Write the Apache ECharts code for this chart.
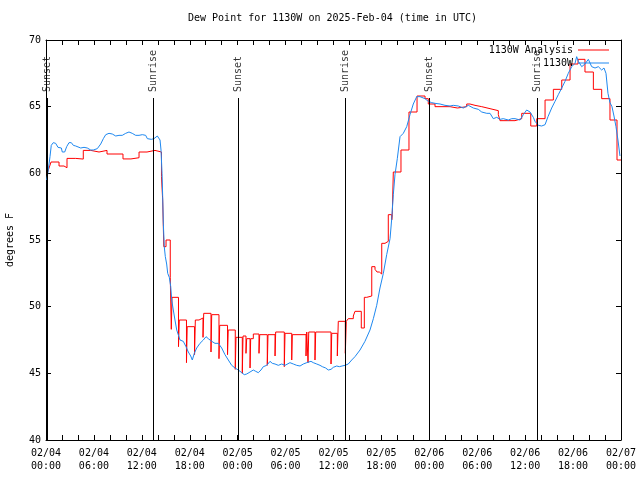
<!DOCTYPE html>
<html>
<head>
<meta charset="utf-8">
<script src="https://cdn.jsdelivr.net/npm/echarts@6/dist/echarts.min.js"></script>
<style>html,body{margin:0;padding:0;background:#fff}#c{width:640px;height:480px}</style>
</head>
<body>
<div id="c"></div>
<script>
// time in hours since 2025-02-04 00:00 UTC
const redTimes = [0.15,0.38,0.63,1.63,2.25,2.63,3.72,4.67,5.60,6.64,7.64,9.64,10.64,11.65,12.65,13.65,
 14.46,14.61,14.69,14.75,15.03,15.56,15.69,15.78,16.59,16.69,17.59,17.68,18.60,18.70,19.16,19.66,19.75,
 20.66,20.75,21.66,21.75,22.73,22.82,23.70,23.79,24.58,24.67,25.04,25.13,25.55,25.63,25.96,26.67,26.76,
 27.71,27.80,28.68,28.76,29.84,29.93,30.77,30.84,32.56,32.65,32.81,32.90,33.68,33.77,35.69,35.78,36.48,
 36.60,37.48,37.60,37.85,38.48,38.69,39.48,39.86,40.16,40.79,41.20,41.45,41.74,42.04,42.45,42.86,43.29,
 43.36,43.49,44.45,45.45,46.46,47.46,47.87,48.71,50.59,51.51,52.68,53.09,53.72,54.56,55.60,56.64,56.85,
 58.73,59.57,60.70,61.45,62.49,63.53,64.58,65.62,66.62,67.49,68.54,69.58,70.62,71.50,72.0];
const redValues = [60.0,60.4,60.85,60.55,60.42,61.12,61.07,61.72,61.6,61.72,61.45,61.08,61.17,61.6,61.72,61.6,
 59.75,58.0,56.0,54.5,55.0,52.2,48.3,50.7,47.0,49.0,45.8,48.5,46.4,49.0,49.15,47.7,49.5,
 46.6,49.4,46.1,48.6,46.4,48.25,45.3,47.7,45.0,47.8,46.5,47.6,45.4,47.6,47.95,46.5,47.9,
 45.6,47.9,46.3,48.1,45.5,48.0,46.0,47.9,46.3,48.1,45.8,48.1,46.0,48.1,45.7,48.0,46.3,
 48.9,46.5,48.9,49.1,49.3,49.65,48.4,50.7,50.8,53.0,52.8,52.6,52.45,54.75,54.9,56.9,56.5,
 56.9,60.1,61.75,64.6,65.8,65.6,65.2,65.0,64.9,65.0,65.2,65.1,65.0,64.85,64.7,64.4,63.95,
 64.1,64.5,63.55,64.1,65.5,66.3,67.0,68.2,68.55,67.6,66.3,65.6,64.0,61.0,61.0];

const blueTimes = [0.09,0.25,0.50,0.66,0.91,1.21,1.50,1.75,1.92,2.04,2.34,2.59,2.88,3.17,3.42,3.72,3.92,4.35,
 4.76,5.17,5.60,5.92,6.14,6.42,6.85,7.18,7.48,7.89,8.30,8.73,9.14,9.55,9.98,10.39,10.61,10.80,11.23,11.65,
 12.06,12.48,12.69,12.90,13.19,13.52,13.94,14.15,14.28,14.40,14.53,14.61,14.69,14.81,14.94,15.11,15.24,
 15.44,15.62,15.74,15.94,16.15,16.37,16.78,17.19,17.53,17.82,18.12,18.32,18.57,18.87,19.28,19.70,20.04,
 20.32,20.75,21.16,21.58,22.00,22.41,22.83,23.25,23.67,24.08,24.51,24.83,25.13,25.55,25.96,26.26,26.58,
 26.92,27.21,27.64,28.05,28.34,28.68,29.09,29.51,29.93,30.55,30.97,31.39,31.81,32.22,32.65,33.18,33.47,
 33.90,34.31,34.60,35.02,35.35,35.69,35.98,36.40,36.73,37.07,37.44,37.85,38.28,38.69,39.32,39.94,40.57,
 40.99,41.41,41.82,42.24,42.66,43.08,43.29,43.49,43.70,43.99,44.33,44.74,45.17,45.58,45.99,46.42,46.83,
 47.46,47.87,48.30,48.71,49.34,49.96,50.59,51.00,51.63,52.25,52.88,53.51,54.13,54.56,55.19,55.60,56.01,
 56.44,56.85,57.26,57.89,58.32,58.73,59.36,59.77,60.19,60.61,61.02,61.23,61.65,62.07,62.49,62.86,63.32,
 63.74,64.15,64.58,64.99,65.40,65.83,66.24,66.45,66.66,67.08,67.49,67.91,68.33,68.75,69.16,69.58,69.87,
 70.12,70.37,70.62,70.87,71.12,71.37,71.62,71.87];
const blueValues = [59.5,60.1,61.25,62.1,62.3,62.25,61.95,61.85,61.9,61.6,61.6,62.0,62.3,62.3,62.1,62.05,61.9,61.9,
 61.95,61.9,61.75,61.75,61.6,61.85,62.2,62.6,62.9,63.0,62.95,62.8,62.85,62.85,63.0,63.1,63.25,63.0,62.85,62.85,
 62.9,62.85,62.6,62.45,62.55,62.6,62.8,62.85,62.5,61.75,60.0,58.25,56.25,54.5,53.75,53.2,52.5,
 52.2,51.5,50.5,49.75,49.0,48.25,47.5,47.4,47.0,46.6,46.3,46.0,46.5,46.9,47.25,47.5,47.75,
 47.6,47.4,47.25,47.25,46.9,46.4,46.0,45.6,45.4,45.25,45.05,44.9,44.95,45.1,45.25,45.15,45.05,
 45.25,45.5,45.6,45.9,45.75,45.7,45.6,45.7,45.6,45.8,45.7,45.6,45.55,45.7,45.8,45.9,45.8,
 45.7,45.6,45.5,45.4,45.25,45.3,45.45,45.55,45.5,45.55,45.6,45.7,46.0,46.25,46.75,47.4,48.25,
 49.1,50.1,51.4,52.5,53.9,55.1,56.6,58.4,59.9,61.1,62.75,63.0,63.5,64.4,65.2,65.75,65.75,
 65.6,65.4,65.3,65.25,65.2,65.1,65.05,65.1,65.05,64.9,65.1,64.9,64.8,64.6,64.5,64.5,64.1,
 64.2,64.05,64.1,64.0,64.1,64.1,64.0,64.4,64.75,64.6,64.2,63.9,63.6,63.55,63.65,64.25,64.9,
 65.4,65.9,66.4,66.9,67.5,68.0,68.25,68.75,68.4,68.0,68.2,68.55,68.0,67.9,68.0,67.75,67.9,
 67.5,66.0,65.3,65.0,64.3,63.5,62.5,61.3];

const sunTimes = [0.12, 13.41, 24.04, 37.44, 47.96, 61.48];
const sunLabels = ['Sunset', 'Sunrise', 'Sunset', 'Sunrise', 'Sunset', 'Sunrise'];
const sunLineTop = 65.65;
const sunLabelBase = 66.1;

const FONT = 'DejaVu Sans Mono';
const zip = (a, b) => a.map((t, i) => [t, b[i]]);

const chart = echarts.init(document.getElementById('c'), null, {renderer: 'canvas'});

function xLabel(h) {
  if (h % 6 !== 0) return '';
  const day = 4 + Math.floor(h / 24);
  const hh = h % 24;
  return '02/0' + day + '\n' + (hh < 10 ? '0' + hh : hh) + ':00';
}

const axisBase = {
  axisLine: {show: true, onZero: false, lineStyle: {color: '#000', width: 1}},
  axisTick: {show: true, inside: true, length: 5, lineStyle: {color: '#000', width: 1}},
  splitLine: {show: false}
};

chart.setOption({
  animation: false,
  backgroundColor: '#fff',
  textStyle: {fontFamily: FONT, fontSize: 10, color: '#000'},
  title: {
    text: 'Dew Point for 1130W on 2025-Feb-04 (time in UTC)',
    left: 188, top: 13, padding: 0,
    textStyle: {fontFamily: FONT, fontSize: 10, fontWeight: 'normal', color: '#000'}
  },
  legend: [
    {data: ['1130W Analysis'], right: 31, top: 45, padding: 0, align: 'right', icon: 'rect',
     itemWidth: 31, itemHeight: 1, itemGap: 0,
     textStyle: {fontFamily: FONT, fontSize: 10, color: '#000'}},
    {data: ['1130W'], right: 31, top: 58, padding: 0, align: 'right', icon: 'rect',
     itemWidth: 31, itemHeight: 1, itemGap: 0,
     textStyle: {fontFamily: FONT, fontSize: 10, color: '#000'}}
  ],
  grid: {left: 46, right: 19, top: 40, bottom: 40, containLabel: false, outerBoundsMode: 'none'},
  xAxis: [
    Object.assign({}, axisBase, {
      type: 'value', min: 0, max: 72, interval: 2, position: 'bottom',
      axisLabel: {show: true, margin: 7, formatter: xLabel, lineHeight: 13,
        fontFamily: FONT, fontSize: 10, color: '#000', showMinLabel: true, showMaxLabel: true}
    }),
    Object.assign({}, axisBase, {
      type: 'value', min: 0, max: 72, interval: 2, position: 'top',
      axisLabel: {show: false}
    })
  ],
  yAxis: [
    Object.assign({}, axisBase, {
      type: 'value', min: 40, max: 70, interval: 5, position: 'left',
      name: 'degrees F', nameLocation: 'middle', nameGap: 31, nameRotate: 90,
      nameTextStyle: {fontFamily: FONT, fontSize: 10, color: '#000'},
      axisLabel: {show: true, margin: 5, fontFamily: FONT, fontSize: 10, color: '#000'}
    }),
    Object.assign({}, axisBase, {
      type: 'value', min: 40, max: 70, interval: 5, position: 'right',
      axisLabel: {show: false}
    })
  ],
  series: [
    {
      name: 'sun', type: 'scatter', symbolSize: 0, silent: true,
      data: sunTimes.map((t, i) => ({value: [t, sunLabelBase], name: sunLabels[i]})),
      label: {show: true, formatter: '{b}', position: 'inside', rotate: 90, align: 'left',
        verticalAlign: 'middle', fontFamily: FONT, fontSize: 10, color: '#000'},
      markLine: {
        silent: true, symbol: ['none', 'none'], animation: false,
        label: {show: false},
        lineStyle: {color: '#000', width: 1, type: 'solid'},
        emphasis: {disabled: true},
        data: sunTimes.map(t => [{coord: [t, 40]}, {coord: [t, sunLineTop]}])
      }
    },
    {
      name: '1130W Analysis', type: 'line', step: 'end', showSymbol: false, symbol: 'none',
      data: zip(redTimes, redValues), color: '#ff0000',
      lineStyle: {color: '#ff0000', width: 1}
    },
    {
      name: '1130W', type: 'line', showSymbol: false, symbol: 'none',
      data: zip(blueTimes, blueValues), color: '#1e88f0',
      lineStyle: {color: '#1e88f0', width: 1}
    }
  ]
});
</script>
</body>
</html>
